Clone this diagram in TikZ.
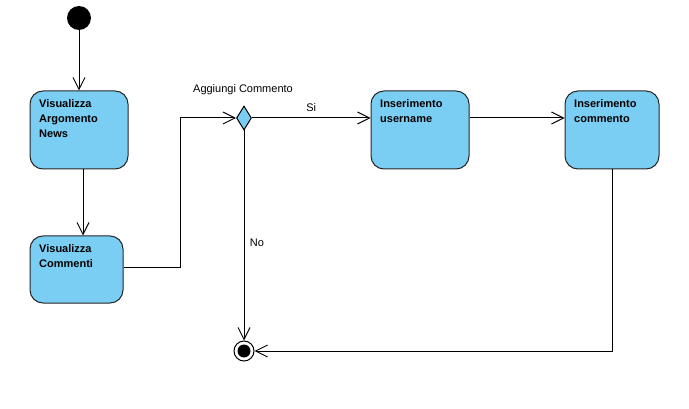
\documentclass[tikz,border=0pt]{standalone}
\usepackage{fontspec}
\setmainfont{Liberation Sans}
\usetikzlibrary{shapes.geometric,arrows.meta}
\definecolor{actfill}{HTML}{7ACEF4}
\tikzset{
  every node/.style={font=\fontsize{11}{15}\selectfont},
  actbox/.style={draw=black!85, line width=1pt, fill=actfill, rounded corners=13pt, inner sep=0pt},
  acttext/.style={anchor=north west, inner sep=0pt, align=left, font=\fontsize{11}{15}\selectfont\bfseries},
  flow/.style={draw=black, line width=1pt, -{Straight Barb[length=12pt,width=12pt,line width=1pt]}},
  plain/.style={draw=black, line width=1pt},
  lbl/.style={inner sep=0pt}
}
\begin{document}
\begin{tikzpicture}[x=1pt,y=-1pt]
\useasboundingbox (0,0) rectangle (689,409);
% start
\node[circle, fill=black, minimum size=24pt, inner sep=0pt] (start) at (79,18) {};
% activities
\node[actbox, minimum width=98pt, minimum height=78pt] (b1) at (79,130) {};
\node[acttext] (t1) at (39,99) {Visualizza\\Argomento\\News};
\node[actbox, minimum width=93pt, minimum height=67pt] (b2) at (76.5,269.5) {};
\node[acttext] (t2) at (39,244) {Visualizza\\Commenti};
\node[actbox, minimum width=98pt, minimum height=78pt] (b3) at (420,130) {};
\node[acttext] (t3) at (380,99) {Inserimento\\username};
\node[actbox, minimum width=94pt, minimum height=78pt] (b4) at (612,130) {};
\node[acttext] (t4) at (574,99) {Inserimento\\commento};
% decision
\node[diamond, draw=black, line width=1pt, fill=actfill, inner sep=0pt, minimum width=15pt, minimum height=24pt] (dec) at (244,118) {};
\node[lbl] (declbl) at (243,90) {Aggiungi Commento};
% final
\node[circle, draw=black, line width=1pt, fill=white, minimum size=20pt, inner sep=0pt] (fin) at (244,351) {};
\node[circle, fill=black, minimum size=13pt, inner sep=0pt] (finin) at (244,351) {};
% connectors
\draw[flow] (start) -- (b1);
\draw[flow] ([xshift=4pt]b1.south) -- ([xshift=6.5pt]b2.north);
\coordinate (c1) at (180,268);
\coordinate (c2) at (180,118);
\draw[flow] (b2.east |- c1) -- (c1) -- (c2) -- (dec.west);
\draw[flow] (dec.east) -- node[lbl, above=6pt] (si) {Si} (b3.west |- dec.east);
\draw[flow] (b3.east |- dec.east) -- (b4.west |- dec.east);
\draw[flow] (dec.south) -- (fin.north);
\node[lbl] (no) at (257,243) {No};
\coordinate (c3) at (612,351);
\draw[flow] (b4.south) -- (c3) -- (fin.east);
\end{tikzpicture}
\end{document}
